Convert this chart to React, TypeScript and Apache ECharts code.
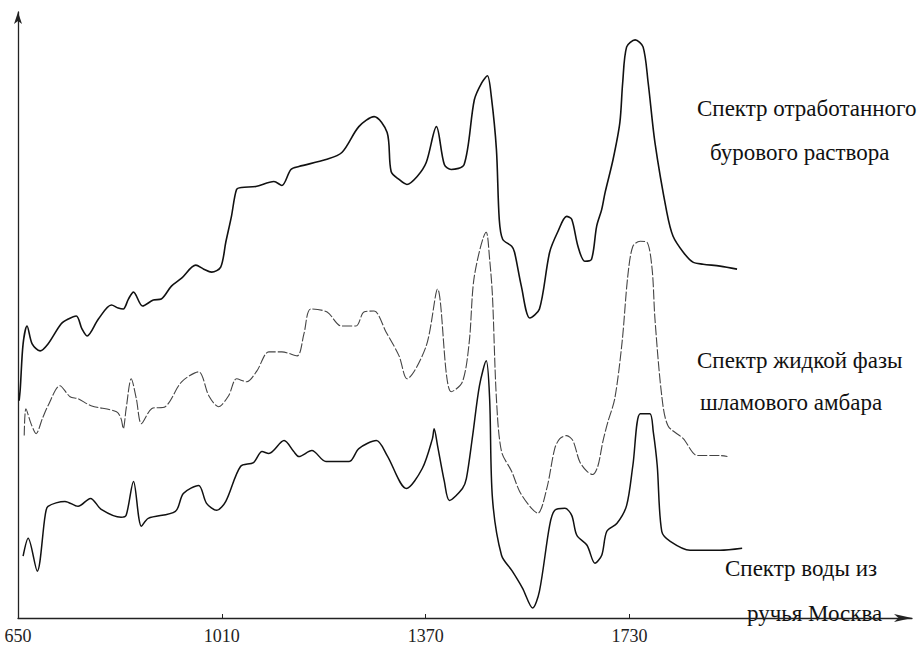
import React, { useEffect, useRef } from "react";
import * as echarts from "echarts";

// Wavenumber (cm-1) and relative signal
const tickValues = [650, 1010, 1370, 1730];

const drillingFluidWn = [652,654,659,666,675,689,703,726,739,753,763,772,792,815,827,836,845,854,870,889,903,921,939,964,978,992,1008,1017,1027,1036,1045,1070,1102,1116,1132,1146,1194,1222,1252,1279,1302,1309,1323,1337,1355,1371,1389,1403,1415,1438,1456,1469,1479,1486,1495,1500,1506,1522,1527,1539,1554,1571,1589,1603,1619,1628,1639,1651,1663,1672,1681,1687,1701,1713,1718,1725,1740,1754,1763,1775,1796,1807,1825,1842,1860,1890,1920];
const drillingFluidVal = [218,230,275,293,275,268,275,295,300,303,290,283,300,314,311,310,320,327,313,319,320,333,341,354,350,347,352,377,403,430,432,433,438,434,450,453,460,467,493,503,487,448,440,435,443,457,493,455,450,455,520,537,544,523,470,400,380,373,367,333,301,310,367,387,403,400,373,358,360,393,410,427,460,497,537,573,580,573,537,477,407,383,367,357,355,353,350];

const pitLiquidWn = [661,664,673,682,693,703,724,742,756,779,824,832,836,841,850,859,868,886,910,939,969,987,1004,1022,1036,1054,1072,1093,1116,1143,1155,1167,1196,1221,1247,1261,1279,1300,1323,1337,1371,1391,1407,1415,1435,1447,1456,1477,1483,1488,1495,1504,1522,1536,1554,1568,1584,1598,1607,1619,1630,1642,1655,1665,1674,1683,1692,1704,1717,1727,1736,1749,1761,1770,1775,1787,1798,1825,1850,1890,1903];
const pitLiquidVal = [183,210,195,185,200,213,233,222,220,213,207,200,190,210,240,220,195,210,212,237,247,223,212,223,240,237,248,267,267,263,285,310,307,293,293,307,308,287,263,240,273,330,243,227,237,277,343,387,360,323,220,167,147,127,112,105,130,170,180,183,178,157,147,144,152,177,197,220,277,343,373,378,377,350,300,223,193,180,163,163,162];

const creekWaterWn = [659,668,684,698,703,733,756,778,797,832,841,854,868,880,928,942,969,983,1001,1017,1043,1066,1081,1093,1120,1137,1146,1169,1194,1235,1252,1283,1302,1336,1364,1382,1385,1391,1403,1412,1435,1442,1453,1465,1477,1483,1488,1504,1523,1541,1559,1571,1589,1598,1616,1628,1637,1655,1669,1681,1690,1708,1725,1736,1749,1766,1772,1779,1787,1802,1837,1890,1929];
const creekWaterVal = [62,80,47,103,112,117,112,120,109,101,103,137,92,100,107,125,133,115,108,117,152,156,167,165,178,167,162,168,157,157,170,178,163,130,150,180,190,173,137,118,130,140,183,233,258,220,120,63,47,30,10,27,93,108,110,103,83,73,55,63,87,95,113,153,205,205,187,153,87,77,68,68,70];

const labelLines = [
  ["Спектр отработанного", "бурового раствора"],
  ["Спектр жидкой фазы", "шламового амбара"],
  ["Спектр воды из", "ручья Москва"],
];

const zip = (xs: number[], ys: number[]) => xs.map((x, i) => [x, ys[i]]);

const FONT = "Liberation Serif";

export default function App() {
  const ref = useRef<HTMLDivElement>(null);
  useEffect(() => {
    if (!ref.current) return;
    const chart = echarts.init(ref.current, null, { renderer: "svg" });
    const labelPos = [
      [[697, 108], [710, 152]],
      [[697, 360], [700, 402]],
      [[725, 568], [747, 613]],
    ];
    const graphics: any[] = [];
    labelLines.forEach((lines, i) => {
      lines.forEach((t, j) => {
        graphics.push({
          type: "text",
          x: labelPos[i][j][0],
          y: labelPos[i][j][1],
          style: {
            text: t,
            fontFamily: FONT,
            fontSize: 23,
            fill: "#111",
            verticalAlign: "middle",
            align: "left",
          },
        });
      });
    });
    chart.setOption({
      animation: false,
      backgroundColor: "#fff",
      grid: { left: 18, right: 11, top: 12, bottom: 25, containLabel: false },
      xAxis: {
        type: "value",
        min: 650,
        max: 2229,
        interval: 360,
        splitLine: { show: false },
        axisLine: {
          show: true,
          onZero: false,
          symbol: ["none", "arrow"],
          symbolSize: [6, 18],
          lineStyle: { color: "#222", width: 1.3 },
        },
        axisTick: { show: true, inside: true, length: 4, customValues: tickValues, lineStyle: { color: "#222" } },
        axisLabel: {
          customValues: tickValues,
          margin: 9,
          fontFamily: FONT,
          fontSize: 18,
          color: "#222",
          formatter: (v: number) => (tickValues.indexOf(v) >= 0 ? String(v) : ""),
        },
      },
      yAxis: {
        type: "value",
        min: 0,
        max: 608,
        splitLine: { show: false },
        axisTick: { show: false },
        axisLabel: { show: false },
        axisLine: {
          show: true,
          onZero: false,
          symbol: ["none", "arrow"],
          symbolSize: [6, 12],
          lineStyle: { color: "#222", width: 1.3 },
        },
      },
      series: [
        {
          type: "line",
          name: "Спектр отработанного бурового раствора",
          data: zip(drillingFluidWn, drillingFluidVal),
          showSymbol: false,
          smooth: 0.3,
          lineStyle: { color: "#111", width: 1.6 },
        },
        {
          type: "line",
          name: "Спектр жидкой фазы шламового амбара",
          data: zip(pitLiquidWn, pitLiquidVal),
          showSymbol: false,
          smooth: 0.3,
          lineStyle: { color: "#444", width: 1.1, type: [10, 2] },
        },
        {
          type: "line",
          name: "Спектр воды из ручья Москва",
          data: zip(creekWaterWn, creekWaterVal),
          showSymbol: false,
          smooth: 0.3,
          lineStyle: { color: "#111", width: 1.5 },
        },
      ],
      graphic: graphics,
    });
    return () => chart.dispose();
  }, []);
  return <div ref={ref} style={{ width: 923, height: 645, position: "absolute", left: 0, top: 0 }} />;
}
